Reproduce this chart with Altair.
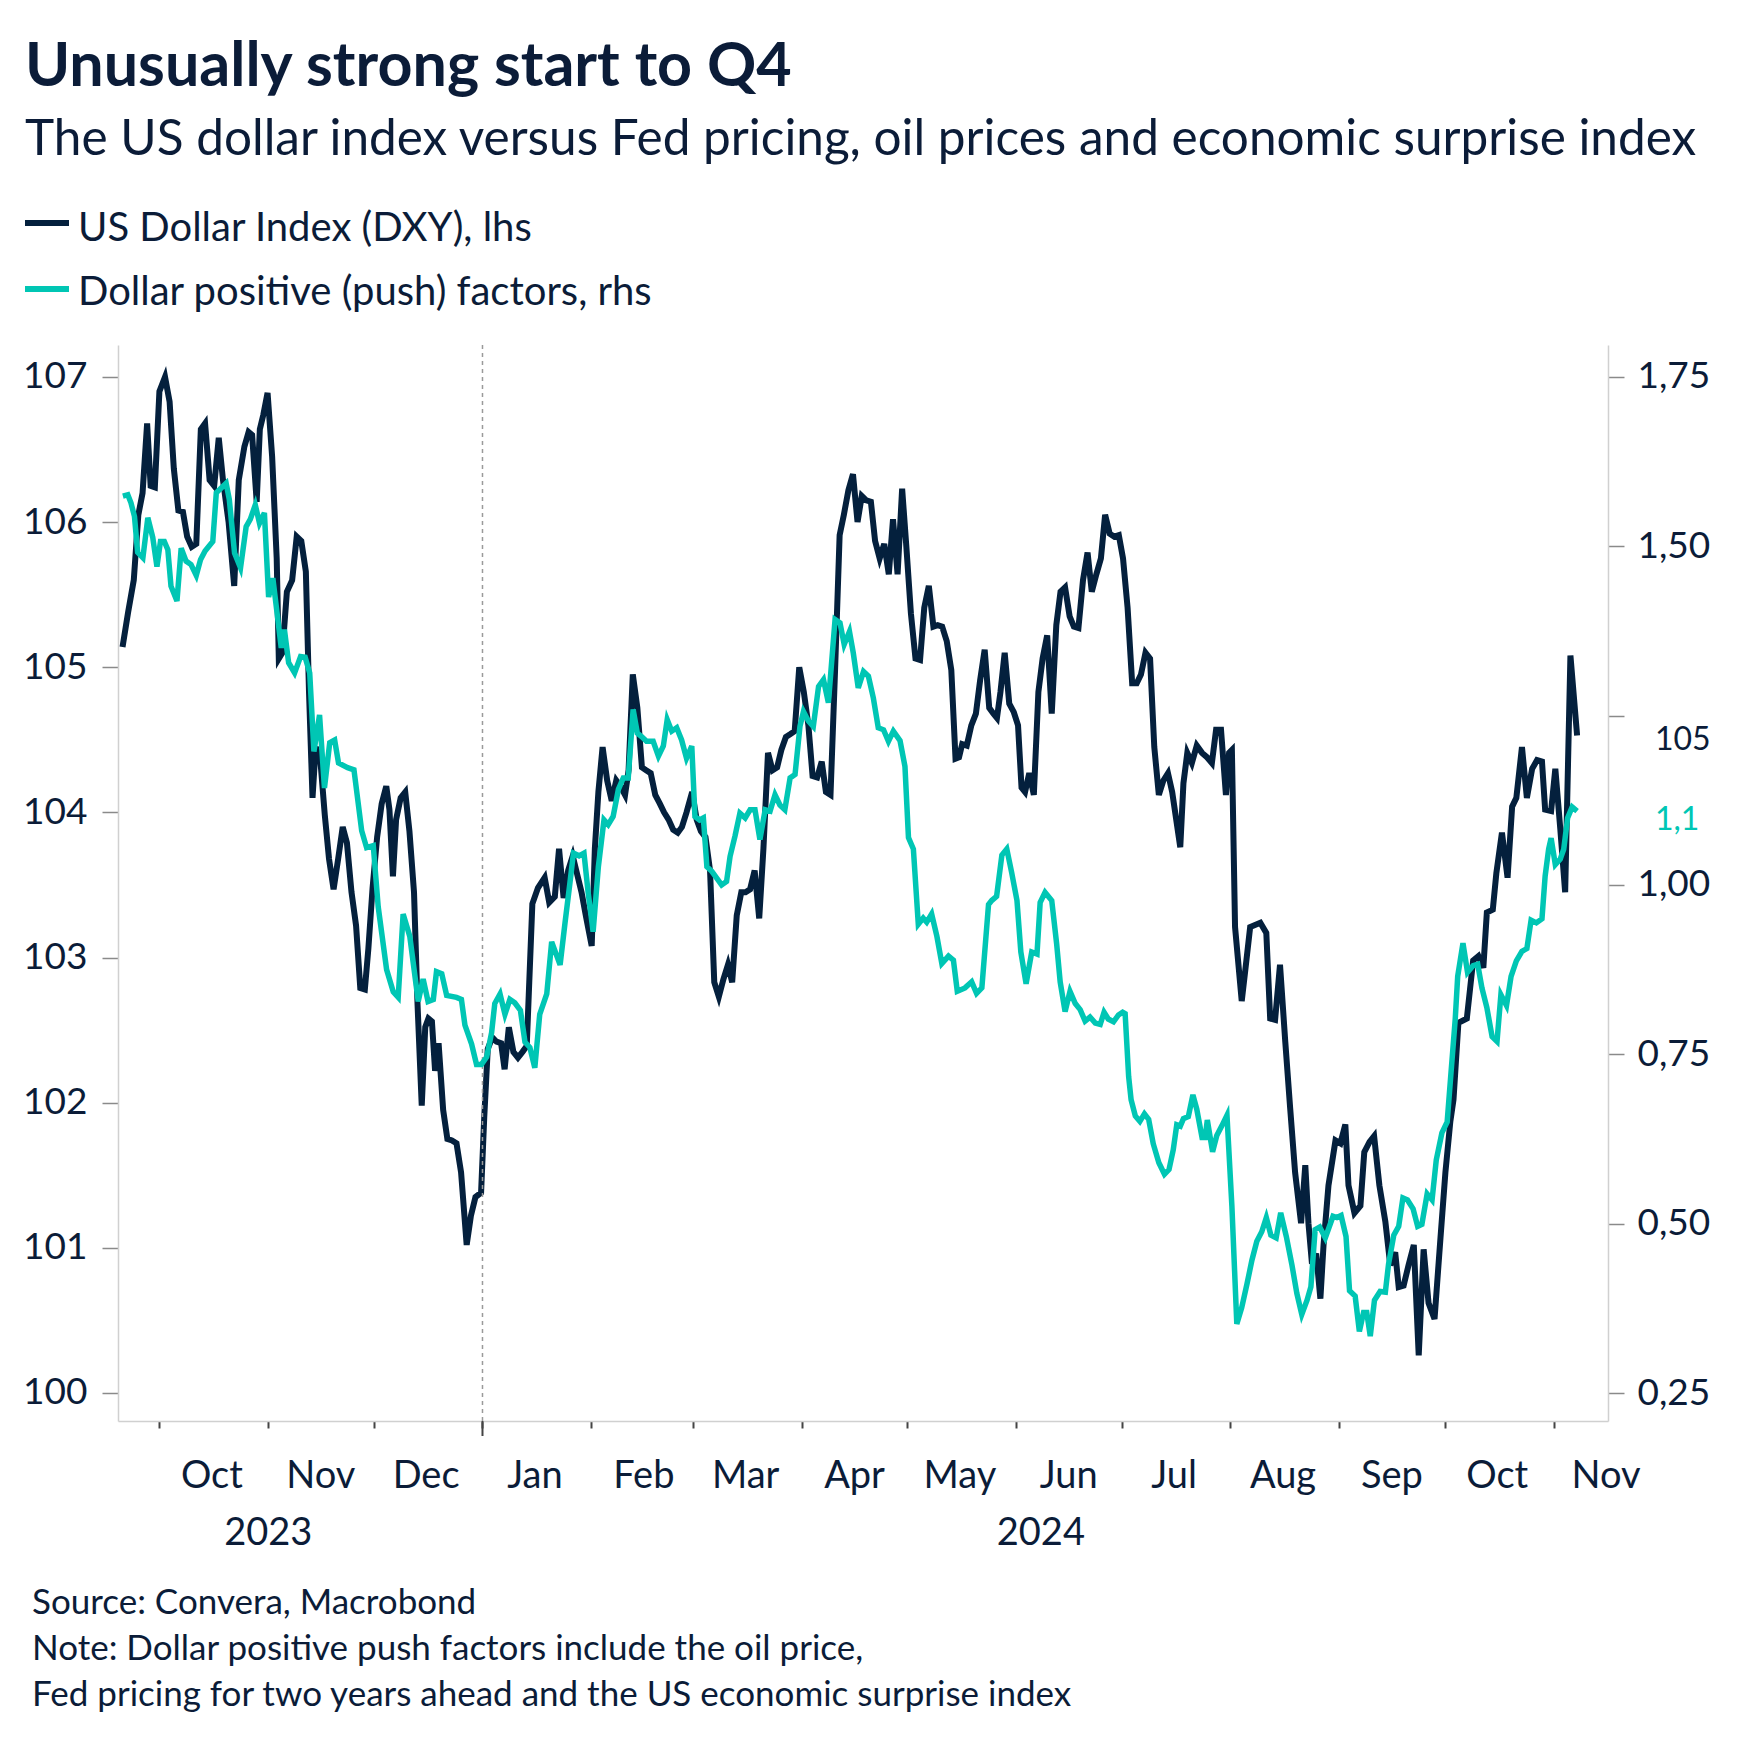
import altair as alt
import pandas as pd

# ---------------- data ----------------
BASE_DATE = "2023-10-01"   # day offsets below are days after this date

dxy_days = [-10.5, -8.9, -7.3, -6.0, -4.8, -3.5, -2.5, -1.3, 0.0, 1.6, 2.9, 4.1, 5.4, 6.7, 7.9, 9.2,
            10.5, 11.8, 13.0, 14.3, 15.6, 16.9, 18.1, 19.7, 21.3, 22.6, 24.2, 25.4, 26.4, 27.7, 28.6,
            29.6, 30.8, 32.1, 33.4, 34.0, 35.0, 36.3, 37.8, 39.1, 40.4, 41.7, 42.6, 43.6, 44.5, 45.8,
            47.1, 48.3, 49.6, 50.9, 52.2, 53.4, 54.7, 56.0, 57.2, 58.5, 59.5, 60.7, 62.0, 63.3, 64.6,
            65.5, 66.5, 67.4, 68.7, 70.0, 71.2, 72.5, 73.5, 74.7, 75.7, 76.6, 77.6, 78.5, 79.5, 80.8,
            82.0, 83.3, 84.6, 85.9, 87.5, 88.7, 90.0, 91.6, 92.5, 93.5, 94.8, 96.0, 97.3, 98.3, 99.5,
            100.8, 102.1, 103.4, 104.6, 106.2, 107.8, 109.7, 111.0, 112.6, 113.8, 115.1, 116.4, 117.7,
            118.9, 120.2, 121.5, 123.1, 124.0, 125.0, 126.2, 127.5, 128.8, 130.1, 131.3, 132.6, 133.6,
            134.8, 136.1, 137.4, 138.6, 139.9, 141.2, 142.5, 143.7, 145.0, 146.3, 147.6, 148.8, 150.1,
            151.7, 153.0, 154.2, 155.5, 156.8, 158.0, 159.3, 160.6, 161.9, 163.1, 164.4, 165.7, 166.9,
            168.2, 169.5, 170.8, 172.0, 173.3, 174.6, 175.9, 177.1, 178.4, 179.7, 180.9, 182.2, 183.5,
            184.8, 186.0, 187.3, 188.6, 189.8, 191.1, 192.4, 193.7, 194.9, 196.2, 197.5, 198.8, 200.0,
            201.3, 202.6, 203.8, 205.1, 206.4, 207.7, 208.9, 210.2, 211.5, 212.7, 214.0, 215.3, 216.6,
            217.8, 219.1, 220.4, 221.6, 222.9, 224.2, 225.5, 226.7, 227.7, 228.6, 229.9, 231.2, 232.5,
            233.7, 235.0, 236.3, 237.5, 238.5, 239.5, 240.7, 242.0, 243.3, 244.5, 245.5, 246.5, 247.7,
            249.0, 250.3, 251.5, 252.8, 254.1, 255.4, 256.6, 257.9, 259.2, 260.4, 261.7, 263.0, 264.3,
            265.5, 266.8, 268.1, 269.3, 270.6, 271.9, 273.2, 274.4, 275.7, 277.0, 278.3, 279.5, 280.8,
            282.1, 283.3, 284.6, 285.9, 287.2, 288.4, 290.7, 291.6, 292.7, 294.0, 295.4, 296.9, 298.3,
            299.7, 300.9, 302.3, 303.7, 304.6, 305.4, 306.3, 308.2, 309.2, 310.6, 313.5, 315.2, 316.3,
            317.7, 319.1, 320.6, 322.0, 323.4, 325.1, 326.3, 327.2, 328.2, 329.4, 330.6, 331.5, 332.9,
            334.9, 336.3, 337.7, 338.6, 340.3, 342.0, 343.1, 344.6, 345.9, 347.4, 349.1, 350.5, 351.9,
            352.9, 354.3, 355.7, 357.2, 358.6, 360.0, 361.4, 363.1, 364.8, 366.2, 367.6, 368.5, 369.9,
            372.3, 373.2, 374.1, 375.6, 377.0, 378.0, 379.7, 380.7, 382.3, 383.9, 385.2, 386.4, 388.0,
            389.4, 390.9, 392.3, 393.7, 394.6, 396.3, 397.5, 398.9, 400.3, 401.8, 403.7]

dxy_values = [105.14, 105.38, 105.6, 106.05, 106.2, 106.68, 106.25, 106.24, 106.9, 107.0, 106.83, 106.37,
              106.08, 106.07, 105.9, 105.83, 105.85, 106.64, 106.68, 106.29, 106.25, 106.58, 106.29, 106.0,
              105.56, 106.29, 106.52, 106.62, 106.6, 106.14, 106.64, 106.74, 106.89, 106.45, 105.75, 105.06,
              105.1, 105.52, 105.6, 105.9, 105.87, 105.66, 104.83, 104.1, 104.45, 104.37, 103.98, 103.68,
              103.47, 103.68, 103.9, 103.79, 103.45, 103.22, 102.79, 102.78, 103.06, 103.48, 103.83, 104.06,
              104.18, 104.02, 103.56, 103.95, 104.1, 104.14, 103.87, 103.45, 102.68, 101.98, 102.52, 102.58,
              102.56, 102.22, 102.41, 101.95, 101.75, 101.74, 101.72, 101.52, 101.02, 101.22, 101.35, 101.38,
              101.9, 102.37, 102.45, 102.42, 102.41, 102.23, 102.52, 102.35, 102.31, 102.35, 102.39, 103.37,
              103.48, 103.55, 103.38, 103.42, 103.75, 103.41, 103.6, 103.7, 103.58, 103.45, 103.28, 103.08,
              103.75, 104.14, 104.45, 104.22, 104.08, 104.22, 104.18, 104.12, 104.29, 104.95, 104.72, 104.31,
              104.29, 104.27, 104.12, 104.06, 104.0, 103.95, 103.88, 103.86, 103.9, 104.0, 104.14, 103.95,
              103.87, 103.83, 103.6, 102.83, 102.73, 102.85, 102.95, 102.83, 103.29, 103.45, 103.45, 103.47,
              103.6, 103.27, 103.75, 104.41, 104.29, 104.31, 104.43, 104.52, 104.54, 104.56, 105.0, 104.83,
              104.6, 104.25, 104.24, 104.35, 104.14, 104.12, 104.98, 105.91, 106.05, 106.22, 106.33, 106.0,
              106.18, 106.15, 106.14, 105.87, 105.75, 105.85, 105.64, 106.02, 105.64, 106.23, 105.83, 105.37,
              105.06, 105.05, 105.41, 105.56, 105.28, 105.29, 105.28, 105.18, 104.98, 104.37, 104.38, 104.47,
              104.46, 104.6, 104.68, 104.91, 105.12, 104.72, 104.68, 104.65, 104.83, 105.1, 104.75, 104.69,
              104.6, 104.17, 104.14, 104.27, 104.12, 104.83, 105.06, 105.22, 104.68, 105.29, 105.52, 105.55,
              105.35, 105.28, 105.27, 105.6, 105.79, 105.52, 105.64, 105.75, 106.05, 105.92, 105.9, 105.91,
              105.75, 105.41, 104.89, 104.89, 104.95, 105.1, 105.06, 104.45, 104.12, 104.22, 104.27, 104.14,
              103.76, 104.2, 104.41, 104.34, 104.46, 104.41, 104.38, 104.34, 104.57, 104.57, 104.12, 104.41,
              104.43, 103.21, 102.7, 102.91, 103.21, 103.24, 103.17, 102.58, 102.57, 102.95, 102.42, 101.96,
              101.52, 101.17, 101.57, 101.17, 100.89, 100.96, 100.65, 101.02, 101.43, 101.74, 101.72, 101.85,
              101.43, 101.24, 101.29, 101.66, 101.73, 101.77, 101.43, 101.18, 100.88, 100.97, 100.73, 100.74,
              100.88, 101.02, 100.26, 100.99, 100.62, 100.51, 101.07, 101.52, 101.87, 102.02, 102.55, 102.58,
              102.78, 102.98, 103.01, 102.93, 103.31, 103.33, 103.58, 103.86, 103.55, 104.04, 104.1, 104.45,
              104.1, 104.3, 104.36, 104.35, 104.02, 104.01, 104.3, 103.89, 103.45, 105.08, 104.53]

push_days = [-10.4, -9.0, -8.1, -7.1, -6.2, -4.7, -3.3, -1.9, -0.7, 0.3, 1.4, 2.4, 3.3, 5.0, 6.2, 7.6,
             9.0, 10.5, 11.7, 13.0, 15.2, 16.2, 17.6, 19.0, 19.9, 21.4, 23.1, 24.7, 25.9, 27.3, 28.5,
             29.9, 31.1, 32.3, 34.7, 35.6, 36.8, 38.5, 40.2, 41.5, 42.8, 44.0, 45.6, 47.0, 48.5, 49.9,
             51.0, 53.6, 55.4, 57.6, 59.0, 60.9, 62.3, 64.7, 66.6, 68.0, 69.4, 71.3, 73.7, 75.1, 76.5,
             78.0, 78.9, 80.4, 81.8, 84.6, 86.0, 87.0, 88.9, 90.3, 91.7, 93.2, 94.6, 95.5, 97.0, 98.4,
             99.8, 101.2, 102.8, 104.1, 105.5, 106.9, 108.3, 110.3, 111.7, 114.1, 115.5, 116.9, 117.9,
             119.5, 120.9, 122.1, 123.5, 125.0, 126.6, 127.8, 129.2, 130.7, 132.1, 133.5, 134.9, 136.1,
             137.3, 138.7, 140.6, 142.1, 143.5, 144.6, 145.9, 147.3, 148.7, 150.1, 151.6, 152.5, 153.8,
             154.9, 155.9, 157.3, 158.7, 160.1, 161.5, 162.5, 163.9, 165.3, 166.8, 168.2, 169.6, 171.0,
             172.5, 173.9, 175.3, 176.7, 178.1, 179.6, 181.0, 182.4, 183.4, 184.8, 186.2, 187.7, 189.1,
             190.5, 192.4, 193.8, 195.0, 196.5, 197.6, 199.0, 200.5, 201.9, 203.3, 204.7, 206.2, 207.6,
             209.0, 210.9, 212.3, 213.3, 214.7, 216.1, 217.5, 218.5, 219.9, 221.4, 222.8, 224.7, 226.1,
             227.2, 229.4, 231.3, 232.7, 234.2, 236.1, 237.0, 238.4, 239.9, 241.3, 242.7, 244.2, 245.3,
             246.8, 248.4, 249.9, 250.8, 252.2, 254.1, 255.5, 256.5, 257.9, 259.3, 260.8, 262.2, 263.6,
             265.0, 266.5, 267.9, 269.0, 270.2, 271.7, 273.1, 274.3, 275.0, 276.0, 276.7, 277.9, 279.2,
             280.5, 281.7, 283.0, 284.6, 286.2, 287.5, 288.7, 289.7, 290.7, 291.6, 293.0, 294.3, 295.4,
             296.9, 297.8, 298.4, 299.9, 301.1, 302.5, 304.0, 305.4, 306.8, 308.2, 309.7, 311.1, 312.5,
             313.9, 315.2, 316.5, 318.0, 319.3, 320.9, 322.5, 323.9, 325.3, 326.8, 327.9, 329.1, 330.4,
             332.0, 334.2, 335.3, 336.5, 337.9, 338.9, 340.5, 341.7, 342.9, 343.8, 344.8, 346.0, 347.6,
             349.1, 350.0, 351.5, 352.9, 354.1, 355.4, 357.0, 358.3, 359.5, 361.0, 362.4, 363.6, 365.2,
             366.7, 367.8, 369.0, 369.7, 371.2, 372.5, 374.1, 375.4, 376.6, 378.0, 379.5, 380.9, 382.0,
             383.6, 384.9, 386.4, 388.0, 389.4, 390.6, 392.1, 393.7, 394.6, 395.6, 396.3, 397.5, 398.9,
             399.9, 401.0, 402.3, 403.7]

push_values = [1.574, 1.576, 1.564, 1.544, 1.491, 1.483, 1.542, 1.513, 1.470, 1.507, 1.507, 1.495, 1.441,
               1.419, 1.497, 1.478, 1.473, 1.457, 1.480, 1.493, 1.507, 1.579, 1.586, 1.593, 1.569, 1.490,
               1.468, 1.529, 1.540, 1.561, 1.534, 1.549, 1.425, 1.453, 1.350, 1.377, 1.328, 1.313, 1.337,
               1.336, 1.313, 1.197, 1.251, 1.143, 1.210, 1.214, 1.180, 1.173, 1.170, 1.080, 1.055, 1.058,
               0.968, 0.875, 0.842, 0.834, 0.957, 0.924, 0.828, 0.861, 0.828, 0.831, 0.872, 0.869, 0.837,
               0.834, 0.831, 0.793, 0.765, 0.735, 0.735, 0.746, 0.782, 0.825, 0.839, 0.809, 0.831, 0.826,
               0.815, 0.768, 0.760, 0.730, 0.809, 0.839, 0.916, 0.882, 0.944, 1.003, 1.047, 1.043, 1.047,
               0.988, 0.931, 1.027, 1.096, 1.089, 1.101, 1.141, 1.158, 1.158, 1.259, 1.224, 1.219, 1.212,
               1.212, 1.190, 1.205, 1.244, 1.227, 1.232, 1.214, 1.187, 1.205, 1.101, 1.096, 1.099, 1.027,
               1.020, 1.010, 1.000, 1.005, 1.042, 1.072, 1.106, 1.099, 1.111, 1.111, 1.067, 1.111, 1.109,
               1.133, 1.118, 1.111, 1.158, 1.163, 1.234, 1.256, 1.242, 1.234, 1.293, 1.303, 1.269, 1.392,
               1.387, 1.355, 1.374, 1.342, 1.291, 1.315, 1.308, 1.276, 1.232, 1.229, 1.212, 1.227, 1.213,
               1.175, 1.070, 1.053, 0.942, 0.951, 0.945, 0.957, 0.924, 0.884, 0.895, 0.889, 0.843, 0.848,
               0.857, 0.840, 0.848, 0.971, 0.977, 0.983, 1.044, 1.053, 1.018, 0.977, 0.901, 0.854, 0.901,
               0.898, 0.974, 0.989, 0.977, 0.913, 0.857, 0.813, 0.843, 0.825, 0.816, 0.799, 0.805, 0.796,
               0.794, 0.812, 0.802, 0.798, 0.808, 0.812, 0.810, 0.717, 0.683, 0.659, 0.651, 0.662, 0.654,
               0.618, 0.590, 0.573, 0.580, 0.609, 0.646, 0.644, 0.655, 0.658, 0.690, 0.669, 0.627, 0.627,
               0.653, 0.606, 0.630, 0.644, 0.660, 0.526, 0.352, 0.376, 0.411, 0.446, 0.474, 0.488, 0.509,
               0.483, 0.479, 0.516, 0.481, 0.439, 0.397, 0.366, 0.387, 0.407, 0.491, 0.495, 0.479, 0.511,
               0.509, 0.512, 0.481, 0.401, 0.393, 0.341, 0.369, 0.369, 0.334, 0.387, 0.400, 0.399, 0.440,
               0.483, 0.496, 0.538, 0.535, 0.522, 0.496, 0.499, 0.544, 0.535, 0.594, 0.634, 0.650, 0.723,
               0.802, 0.865, 0.914, 0.871, 0.881, 0.883, 0.848, 0.819, 0.776, 0.769, 0.838, 0.822, 0.865,
               0.888, 0.902, 0.906, 0.948, 0.944, 0.950, 1.013, 1.053, 1.069, 1.030, 1.038, 1.053, 1.099,
               1.115, 1.109]

series_names = ["US Dollar Index (DXY), lhs", "Dollar positive (push) factors, rhs"]
series_colors = ["#04203d", "#00c6b4"]
end_labels = ["105", "1,1"]

left_ticks = [100, 101, 102, 103, 104, 105, 106, 107]
right_ticks = [0.25, 0.5, 0.75, 1.0, 1.25, 1.5, 1.75]
month_ticks = [(2023, 10), (2023, 11), (2023, 12), (2024, 1), (2024, 2), (2024, 3), (2024, 4),
               (2024, 5), (2024, 6), (2024, 7), (2024, 8), (2024, 9), (2024, 10), (2024, 11)]
year_labels = ["2023", "2024"]
year_label_dates = ["2023-11-01", "2024-06-08"]
year_break = "2024-01-01"

title_text = "Unusually strong start to Q4"
subtitle_text = "The US dollar index versus Fed pricing, oil prices and economic surprise index"
note_lines = ["Source: Convera, Macrobond",
              "Note: Dollar positive push factors include the oil price,",
              "Fed pricing for two years ahead and the US economic surprise index"]

# ---------------- build ----------------
FONT = "Lato"
TEXT = "#0b1c38"
W, H = 1490, 1076

base = pd.Timestamp(BASE_DATE)
dxy_df = pd.DataFrame({"date": base + pd.to_timedelta(dxy_days, unit="D"), "value": dxy_values,
                       "series": series_names[0]})
push_df = pd.DataFrame({"date": base + pd.to_timedelta(push_days, unit="D"), "value": push_values,
                        "series": series_names[1]})
dxy_end = pd.DataFrame({"value": [dxy_values[-1]], "label": [end_labels[0]]})
push_end = pd.DataFrame({"value": [push_values[-1]], "label": [end_labels[1]]})

x_scale = alt.Scale(domain=[alt.DateTime(year=2023, month=9, date=19, hours=5),
                            alt.DateTime(year=2024, month=11, date=16, hours=12)])
x_axis = alt.Axis(values=[alt.DateTime(year=y, month=m, date=1) for y, m in month_ticks],
                  format="%b", labelOffset=52, labelOverlap=False, labelBound=False, labelFlush=False,
                  tickSize=7, tickColor="#444444", tickWidth=2, domainColor="#d0d0d0", domainWidth=1.5,
                  labelFont=FONT, labelFontSize=38, labelColor=TEXT, labelBaseline="alphabetic",
                  labelPadding=59, grid=False, title=None)
left_scale = alt.Scale(domain=[99.807, 107.22], nice=False, zero=False)
right_scale = alt.Scale(domain=[0.2087, 1.797], nice=False, zero=False)
left_axis = alt.Axis(values=left_ticks, format="d", orient="left", grid=False, title=None,
                     tickSize=16, tickColor="#8a8a8a", tickWidth=1.5, domainColor="#d0d0d0",
                     domainWidth=1.5, labelFont=FONT, labelFontSize=37, labelColor=TEXT, labelPadding=15)
right_axis = alt.Axis(values=right_ticks, orient="right", grid=False, title=None,
                      labelExpr="datum.value == 1.25 ? '' : replace(format(datum.value, '.2f'), '.', ',')",
                      tickSize=16, tickColor="#8a8a8a", tickWidth=1.5, domainColor="#d0d0d0",
                      domainWidth=1.5, labelFont=FONT, labelFontSize=37, labelColor=TEXT, labelPadding=13)

dxy_line = alt.Chart(dxy_df).mark_line(color=series_colors[0], strokeWidth=6).encode(
    x=alt.X("date:T", scale=x_scale, axis=x_axis),
    y=alt.Y("value:Q", scale=left_scale, axis=left_axis),
)
dxy_lab = alt.Chart(dxy_end).mark_text(font=FONT, fontSize=32, color=TEXT, align="left",
                                       baseline="middle", dy=5).encode(
    x=alt.value(W + 47),
    y=alt.Y("value:Q", scale=left_scale, axis=left_axis),
    text="label:N",
)
break_df = pd.DataFrame({"date": [pd.Timestamp(year_break)]})
dotted = alt.Chart(break_df).mark_rule(color="#9a9a9a", strokeWidth=1.5, strokeDash=[4, 4]).encode(
    x=alt.X("date:T", scale=x_scale, axis=x_axis))
long_tick = alt.Chart(break_df).mark_rule(color="#444444", strokeWidth=2).encode(
    x=alt.X("date:T", scale=x_scale, axis=x_axis), y=alt.value(H), y2=alt.value(H + 15))
years_df = pd.DataFrame({"date": pd.to_datetime(year_label_dates), "label": year_labels})
years = alt.Chart(years_df).mark_text(font=FONT, fontSize=38, color=TEXT, align="center",
                                      baseline="alphabetic").encode(
    x=alt.X("date:T", scale=x_scale, axis=x_axis), y=alt.value(H + 124), text="label:N")

left_layer = alt.layer(dxy_line, dxy_lab, dotted, long_tick, years)

push_line = alt.Chart(push_df).mark_line(color=series_colors[1], strokeWidth=5.5).encode(
    x=alt.X("date:T", scale=x_scale, axis=x_axis),
    y=alt.Y("value:Q", scale=right_scale, axis=right_axis),
)
push_lab = alt.Chart(push_end).mark_text(font=FONT, fontSize=32, color=series_colors[1], align="left",
                                         baseline="middle", dy=9).encode(
    x=alt.value(W + 47),
    y=alt.Y("value:Q", scale=right_scale, axis=right_axis),
    text="label:N",
)
right_layer = alt.layer(push_line, push_lab)


def txt(s, x, y, size, bold=False, color=TEXT):
    return alt.Chart(pd.DataFrame({"t": [s]})).mark_text(
        font=FONT, fontSize=size, fontWeight="bold" if bold else "normal", color=color,
        align="left", baseline="alphabetic").encode(text="t:N", x=alt.value(x), y=alt.value(y))


def swatch(color, y):
    return alt.Chart(pd.DataFrame({"c": [color]})).mark_rule(color=color, strokeWidth=6).encode(
        x=alt.value(-93), x2=alt.value(-49), y=alt.value(y))


decor = [
    txt(title_text, -93, -259, 61, bold=True),
    txt(subtitle_text, -93, -190, 49.5),
    swatch(series_colors[0], -122),
    txt(series_names[0], -40, -104, 40),
    swatch(series_colors[1], -56),
    txt(series_names[1], -40, -40, 40),
    txt(note_lines[0], -86, H + 193, 35),
    txt(note_lines[1], -86, H + 239, 35),
    txt(note_lines[2], -86, H + 285, 35),
]

chart = alt.layer(left_layer, right_layer, *decor).resolve_scale(y="independent").properties(
    width=W, height=H,
    autosize=alt.AutoSizeParams(type="none"),
    padding={"left": 118, "top": 345, "right": 1747 - 118 - W, "bottom": 1750 - 345 - H},
    background="white",
).configure_view(stroke=None)

chart.save("out.html", embed_options={"renderer": "svg", "actions": False})
